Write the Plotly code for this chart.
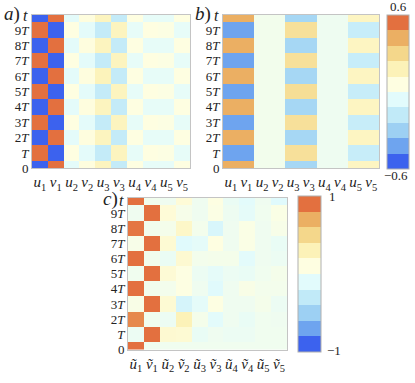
import plotly.graph_objects as go

W, H = 415, 383

# ---------------- data ----------------
cols_ab = ["u1", "v1", "u2", "v2", "u3", "v3", "u4", "v4", "u5", "v5"]
col_labels_ab = ["<i>u</i><sub>1</sub>", "<i>v</i><sub>1</sub>", "<i>u</i><sub>2</sub>", "<i>v</i><sub>2</sub>",
                 "<i>u</i><sub>3</sub>", "<i>v</i><sub>3</sub>", "<i>u</i><sub>4</sub>", "<i>v</i><sub>4</sub>",
                 "<i>u</i><sub>5</sub>", "<i>v</i><sub>5</sub>"]
col_labels_c = ["<i>ũ</i><sub>1</sub>", "<i>ṽ</i><sub>1</sub>", "<i>ũ</i><sub>2</sub>", "<i>ṽ</i><sub>2</sub>",
                "<i>ũ</i><sub>3</sub>", "<i>ṽ</i><sub>3</sub>", "<i>ũ</i><sub>4</sub>", "<i>ṽ</i><sub>4</sub>",
                "<i>ũ</i><sub>5</sub>", "<i>ṽ</i><sub>5</sub>"]
times = [0, 1, 2, 3, 4, 5, 6, 7, 8, 9, 10]
time_labels = ["0", "<i>T</i>", "2<i>T</i>", "3<i>T</i>", "4<i>T</i>", "5<i>T</i>",
               "6<i>T</i>", "7<i>T</i>", "8<i>T</i>", "9<i>T</i>"]

# rows: t = 0, T, ..., 10T
z_a = [
    [-0.65, 0.65, -0.05, 0.07, 0.16, -0.17, 0.06, -0.04, -0.04, 0.06],
    [0.65, -0.65, 0.06, -0.05, -0.17, 0.16, -0.04, 0.06, 0.05, -0.04],
    [-0.65, 0.65, -0.05, 0.07, 0.16, -0.17, 0.06, -0.04, -0.04, 0.06],
    [0.65, -0.65, 0.06, -0.05, -0.17, 0.16, -0.04, 0.06, 0.05, -0.04],
    [-0.65, 0.65, -0.05, 0.07, 0.16, -0.17, 0.06, -0.04, -0.04, 0.06],
    [0.65, -0.65, 0.06, -0.05, -0.17, 0.16, -0.04, 0.06, 0.05, -0.04],
    [-0.65, 0.65, -0.05, 0.07, 0.17, -0.17, 0.06, -0.04, -0.04, 0.06],
    [0.65, -0.65, 0.06, -0.05, -0.17, 0.16, -0.04, 0.06, 0.05, -0.04],
    [-0.65, 0.65, -0.05, 0.07, 0.16, -0.17, 0.06, -0.04, -0.04, 0.06],
    [0.65, -0.65, 0.06, -0.05, -0.17, 0.16, -0.04, 0.06, 0.05, -0.04],
    [-0.65, 0.65, -0.05, 0.07, 0.16, -0.17, 0.06, -0.04, -0.04, 0.06],
]

z_b = [
    [0.42, 0.42, 0.01, 0.01, -0.27, -0.27, -0.01, -0.01, 0.15, 0.15],
    [-0.42, -0.42, 0.01, 0.01, 0.26, 0.26, -0.01, -0.01, -0.16, -0.16],
    [0.42, 0.42, 0.01, 0.01, -0.27, -0.27, -0.01, -0.01, 0.15, 0.15],
    [-0.42, -0.42, 0.01, 0.01, 0.26, 0.26, -0.01, -0.01, -0.16, -0.16],
    [0.42, 0.42, 0.01, 0.01, -0.27, -0.27, -0.01, -0.01, 0.15, 0.15],
    [-0.42, -0.42, 0.01, 0.01, 0.27, 0.27, -0.01, -0.01, -0.16, -0.16],
    [0.42, 0.42, 0.01, 0.01, -0.27, -0.27, -0.01, -0.01, 0.15, 0.15],
    [-0.42, -0.42, 0.01, 0.01, 0.26, 0.26, -0.01, -0.01, -0.16, -0.16],
    [0.42, 0.42, 0.01, 0.01, -0.27, -0.27, -0.01, -0.01, 0.15, 0.15],
    [-0.42, -0.42, 0.01, 0.01, 0.26, 0.26, -0.01, -0.01, -0.16, -0.16],
    [0.42, 0.42, 0.01, 0.01, -0.27, -0.27, -0.01, -0.01, 0.15, 0.15],
]

z_c = [
    [0.97, 0.0, 0.0, 0.0, 0.0, 0.0, 0.0, 0.0, 0.0, 0.0],
    [-0.03, 0.93, 0.18, 0.17, -0.05, -0.01, -0.03, -0.03, 0.0, 0.0],
    [0.82, 0.0, -0.03, 0.3, 0.03, -0.09, -0.01, -0.05, 0.0, -0.01],
    [0.06, 0.93, 0.17, -0.18, -0.08, 0.09, -0.01, -0.01, 0.03, -0.03],
    [0.95, 0.01, 0.02, 0.09, -0.01, -0.11, -0.01, 0.06, 0.02, 0.02],
    [0.0, 0.93, 0.16, 0.09, -0.03, -0.08, -0.03, -0.05, 0.0, 0.03],
    [0.92, 0.01, -0.04, 0.18, 0.02, 0.03, 0.03, -0.09, -0.01, -0.03],
    [0.05, 0.93, 0.17, -0.11, -0.08, 0.1, -0.01, 0.07, -0.01, -0.05],
    [0.88, 0.01, 0.03, 0.22, 0.02, -0.16, -0.01, 0.07, -0.01, 0.05],
    [-0.01, 0.95, 0.15, 0.04, -0.01, 0.08, -0.02, -0.08, 0.0, 0.07],
    [0.95, 0.01, -0.01, 0.15, -0.01, 0.09, -0.04, -0.09, -0.01, -0.11],
]

# ---------------- colours ----------------
palette = ["#3c62ee", "#6ea4ef", "#9dd0f3", "#c1eaf8", "#e2fbfc",
           "#fefee1", "#fcf2b8", "#f4d78b", "#ebaf63", "#e3703f"]
cont_scale = [[0.0, palette[0]]] + [[(i + 0.5) / 10, c] for i, c in enumerate(palette)] + [[1.0, palette[-1]]]
disc_scale = []
for i, c in enumerate(palette):
    disc_scale.append([i / 10, c])
    disc_scale.append([(i + 1) / 10, c])

FONT = "Liberation Serif, DejaVu Serif, serif"


def px_x(x):
    return x / W


def px_y(y):
    return 1 - y / H


panels = [
    # name, data, zmax, x0, x1, y0, y1, labels
    ("", z_a, 0.6, 32, 190, 15, 172, col_labels_ab),
    ("2", z_b, 0.6, 223, 379, 15, 172, col_labels_ab),
    ("3", z_c, 1.0, 128, 287, 202, 357, col_labels_c),
]

fig = go.Figure()
layout = {}
for name, z, zm, x0, x1, y0, y1, labels in panels:
    fig.add_trace(go.Heatmap(
        z=z, x=list(range(len(cols_ab))), y=times,
        zmin=-zm, zmax=zm, colorscale=cont_scale, showscale=False,
        xaxis="x" + name, yaxis="y" + name, hoverinfo="skip"))
    layout["xaxis" + name] = dict(
        domain=[px_x(x0), px_x(x1)], range=[-0.5, 9.5], anchor="y" + name,
        tickmode="array", tickvals=list(range(10)), ticktext=labels,
        ticks="", showgrid=False, zeroline=False, showline=True, mirror=True,
        linecolor="#c4c4c4", linewidth=1,
        tickfont=dict(family=FONT, size=15, color="#222"))
    layout["yaxis" + name] = dict(
        domain=[px_y(y1), px_y(y0)], range=[0, 10], anchor="x" + name,
        tickmode="array", tickvals=times[:10], ticktext=time_labels,
        ticks="", showgrid=False, zeroline=False, showline=True, mirror=True,
        linecolor="#c4c4c4", linewidth=1,
        tickfont=dict(family=FONT, size=13, color="#222"))

# colorbars (discrete steps)
cbars = [
    (0.6, 387, 22, 16.5, 170.5),
    (1.0, 298, 23, 202, 358),
]
for zm, cx, th, cy0, cy1 in cbars:
    fig.add_trace(go.Scatter(
        x=[None], y=[None], mode="markers", showlegend=False, hoverinfo="skip",
        marker=dict(color=[0], cmin=-zm, cmax=zm, colorscale=disc_scale, showscale=True,
                    colorbar=dict(x=px_x(cx), xanchor="left", xpad=0, ypad=0,
                                  y=px_y((cy0 + cy1) / 2), yanchor="middle",
                                  lenmode="pixels", len=cy1 - cy0,
                                  thicknessmode="pixels", thickness=th,
                                  outlinewidth=1, outlinecolor="#b0b0b0",
                                  showticklabels=False, ticks="")),
        xaxis="x", yaxis="y"))

annotations = [
    dict(text="0.6", x=px_x(398), y=px_y(7), xanchor="center", yanchor="middle", size=13),
    dict(text="−0.6", x=px_x(396), y=px_y(179), xanchor="center", yanchor="middle", size=13),
    dict(text="1", x=px_x(327), y=px_y(201), xanchor="left", yanchor="middle", size=13),
    dict(text="−1", x=px_x(325), y=px_y(358), xanchor="left", yanchor="middle", size=13),
    dict(text="<i>a</i>)", x=px_x(2), y=px_y(14), xanchor="left", yanchor="middle", size=19),
    dict(text="<i>t</i>", x=px_x(25), y=px_y(16), xanchor="center", yanchor="middle", size=16),
    dict(text="<i>b</i>)", x=px_x(193), y=px_y(14), xanchor="left", yanchor="middle", size=19),
    dict(text="<i>t</i>", x=px_x(216), y=px_y(16), xanchor="center", yanchor="middle", size=16),
    dict(text="<i>c</i>)", x=px_x(101), y=px_y(203), xanchor="left", yanchor="middle", size=19),
    dict(text="<i>t</i>", x=px_x(121), y=px_y(205), xanchor="center", yanchor="middle", size=16),
]
layout["annotations"] = [
    dict(text=a["text"], x=a["x"], y=a["y"], xref="paper", yref="paper",
         xanchor=a["xanchor"], yanchor=a["yanchor"], showarrow=False,
         font=dict(family=FONT, size=a["size"], color="#222"))
    for a in annotations
]

fig.update_layout(
    width=W, height=H, margin=dict(l=0, r=0, t=0, b=0),
    paper_bgcolor="white", plot_bgcolor="white", showlegend=False,
    font=dict(family=FONT, color="#222"),
    **layout)

fig.write_html("out.html", config={"displayModeBar": False},
               post_script="document.body.style.margin='0';document.body.style.padding='0';")
